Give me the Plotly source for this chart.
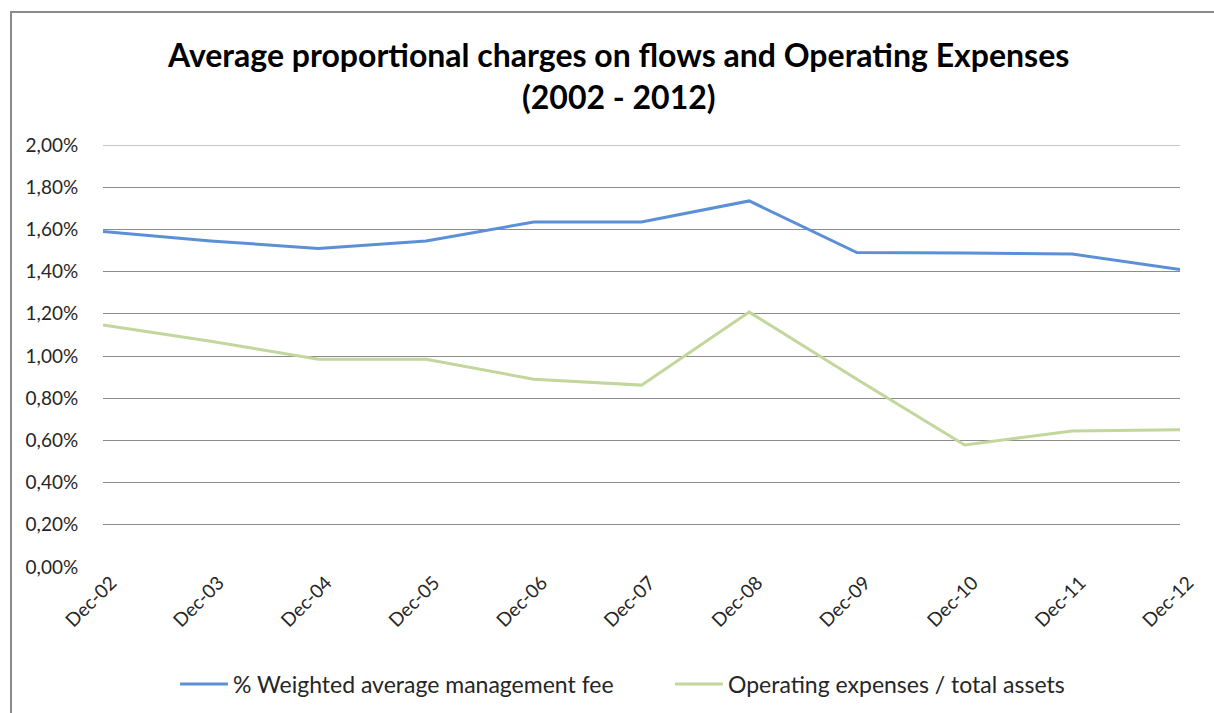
import plotly.graph_objects as go

categories = ["Dec-02", "Dec-03", "Dec-04", "Dec-05", "Dec-06", "Dec-07",
              "Dec-08", "Dec-09", "Dec-10", "Dec-11", "Dec-12"]
mgmt_fee = [0.0159, 0.01545, 0.0151, 0.01545, 0.01635, 0.01635,
            0.01735, 0.0149, 0.01488, 0.01483, 0.0141]
opex_assets = [0.01147, 0.0107, 0.00985, 0.00985, 0.0089, 0.00862,
               0.01208, 0.0089, 0.00578, 0.00645, 0.0065]
series_names = ["% Weighted average management fee", "Operating expenses / total assets"]
title_lines = ["Average proportional charges on flows and Operating Expenses", "(2002 - 2012)"]
y_ticks = [i * 0.002 for i in range(11)]

FONT = "Lato, 'Open Sans', sans-serif"
OFF = 0  # page body margin removed via post_script
W, H = 1214, 713
# plot area in screen pixels: x 103..1180, y 145..567
L, R, T, B = 103 - OFF, W - (1180 - OFF), 145 - OFF, H - (567 - OFF)
pw, ph = W - L - R, H - T - B

def px_x(p):  # screen px -> paper
    return (p - OFF - L) / pw

def px_y(p):
    return (H - B - (p - OFF)) / ph

fig = go.Figure()
fig.add_trace(go.Scatter(x=categories, y=mgmt_fee, mode="lines", name=series_names[0],
                         line=dict(color="#5B8FD6", width=3)))
fig.add_trace(go.Scatter(x=categories, y=opex_assets, mode="lines", name=series_names[1],
                         line=dict(color="#C3D69B", width=3)))

border = dict(color="#8A8A8A", width=2)
fig.update_layout(
    width=W, height=H,
    margin=dict(l=L, r=R, t=T, b=B, autoexpand=False),
    paper_bgcolor="white", plot_bgcolor="white",
    separators=", ",
    font=dict(family=FONT, color="#262626", size=18),
    showlegend=True,
    legend=dict(orientation="h", x=px_x(175), xanchor="left",
                y=px_y(684), yanchor="middle", font=dict(size=23, color="#262626"),
                bgcolor="rgba(0,0,0,0)", itemwidth=48,
                entrywidth=432, entrywidthmode="pixels"),
    xaxis=dict(type="category", range=[0, 10], showgrid=False, zeroline=False,
               showline=False, ticks="", tickangle=-45, tickfont=dict(size=19),
               ticklabelshift=8, automargin=False),
    yaxis=dict(range=[0, 0.02], tickvals=y_ticks,
               tickformat=".2%", showgrid=True,
               gridcolor="#8C8C8C", gridwidth=1, zeroline=False, showline=False,
               ticks="outside", ticklen=20, tickcolor="rgba(0,0,0,0)",
               tickfont=dict(size=19), automargin=False),
    shapes=[
        dict(type="line", xref="paper", yref="paper",
             x0=px_x(11), x1=px_x(1400), y0=px_y(12), y1=px_y(12),
             line=border, layer="below"),
        dict(type="line", xref="paper", yref="paper",
             x0=px_x(11), x1=px_x(11), y0=px_y(11), y1=px_y(900),
             line=border, layer="below"),
        dict(type="line", xref="paper", yref="y", x0=0, x1=1,
             y0=y_ticks[-1], y1=y_ticks[-1], line=dict(color="#8C8C8C", width=1),
             layer="below"),
    ],
    annotations=[
        dict(text="<b>" + title_lines[0] + "</b>", xref="paper", yref="paper",
             x=px_x(618), y=px_y(54), showarrow=False, xanchor="center", yanchor="middle",
             font=dict(size=32, color="black", family=FONT)),
        dict(text="<b>" + title_lines[1] + "</b>", xref="paper", yref="paper",
             x=px_x(619), y=px_y(96), showarrow=False, xanchor="center", yanchor="middle",
             font=dict(size=32, color="black", family=FONT)),
    ],
)

fig.write_html("out.html", config={"displayModeBar": False},
               post_script="document.body.style.margin='0';document.body.style.overflow='hidden';")
